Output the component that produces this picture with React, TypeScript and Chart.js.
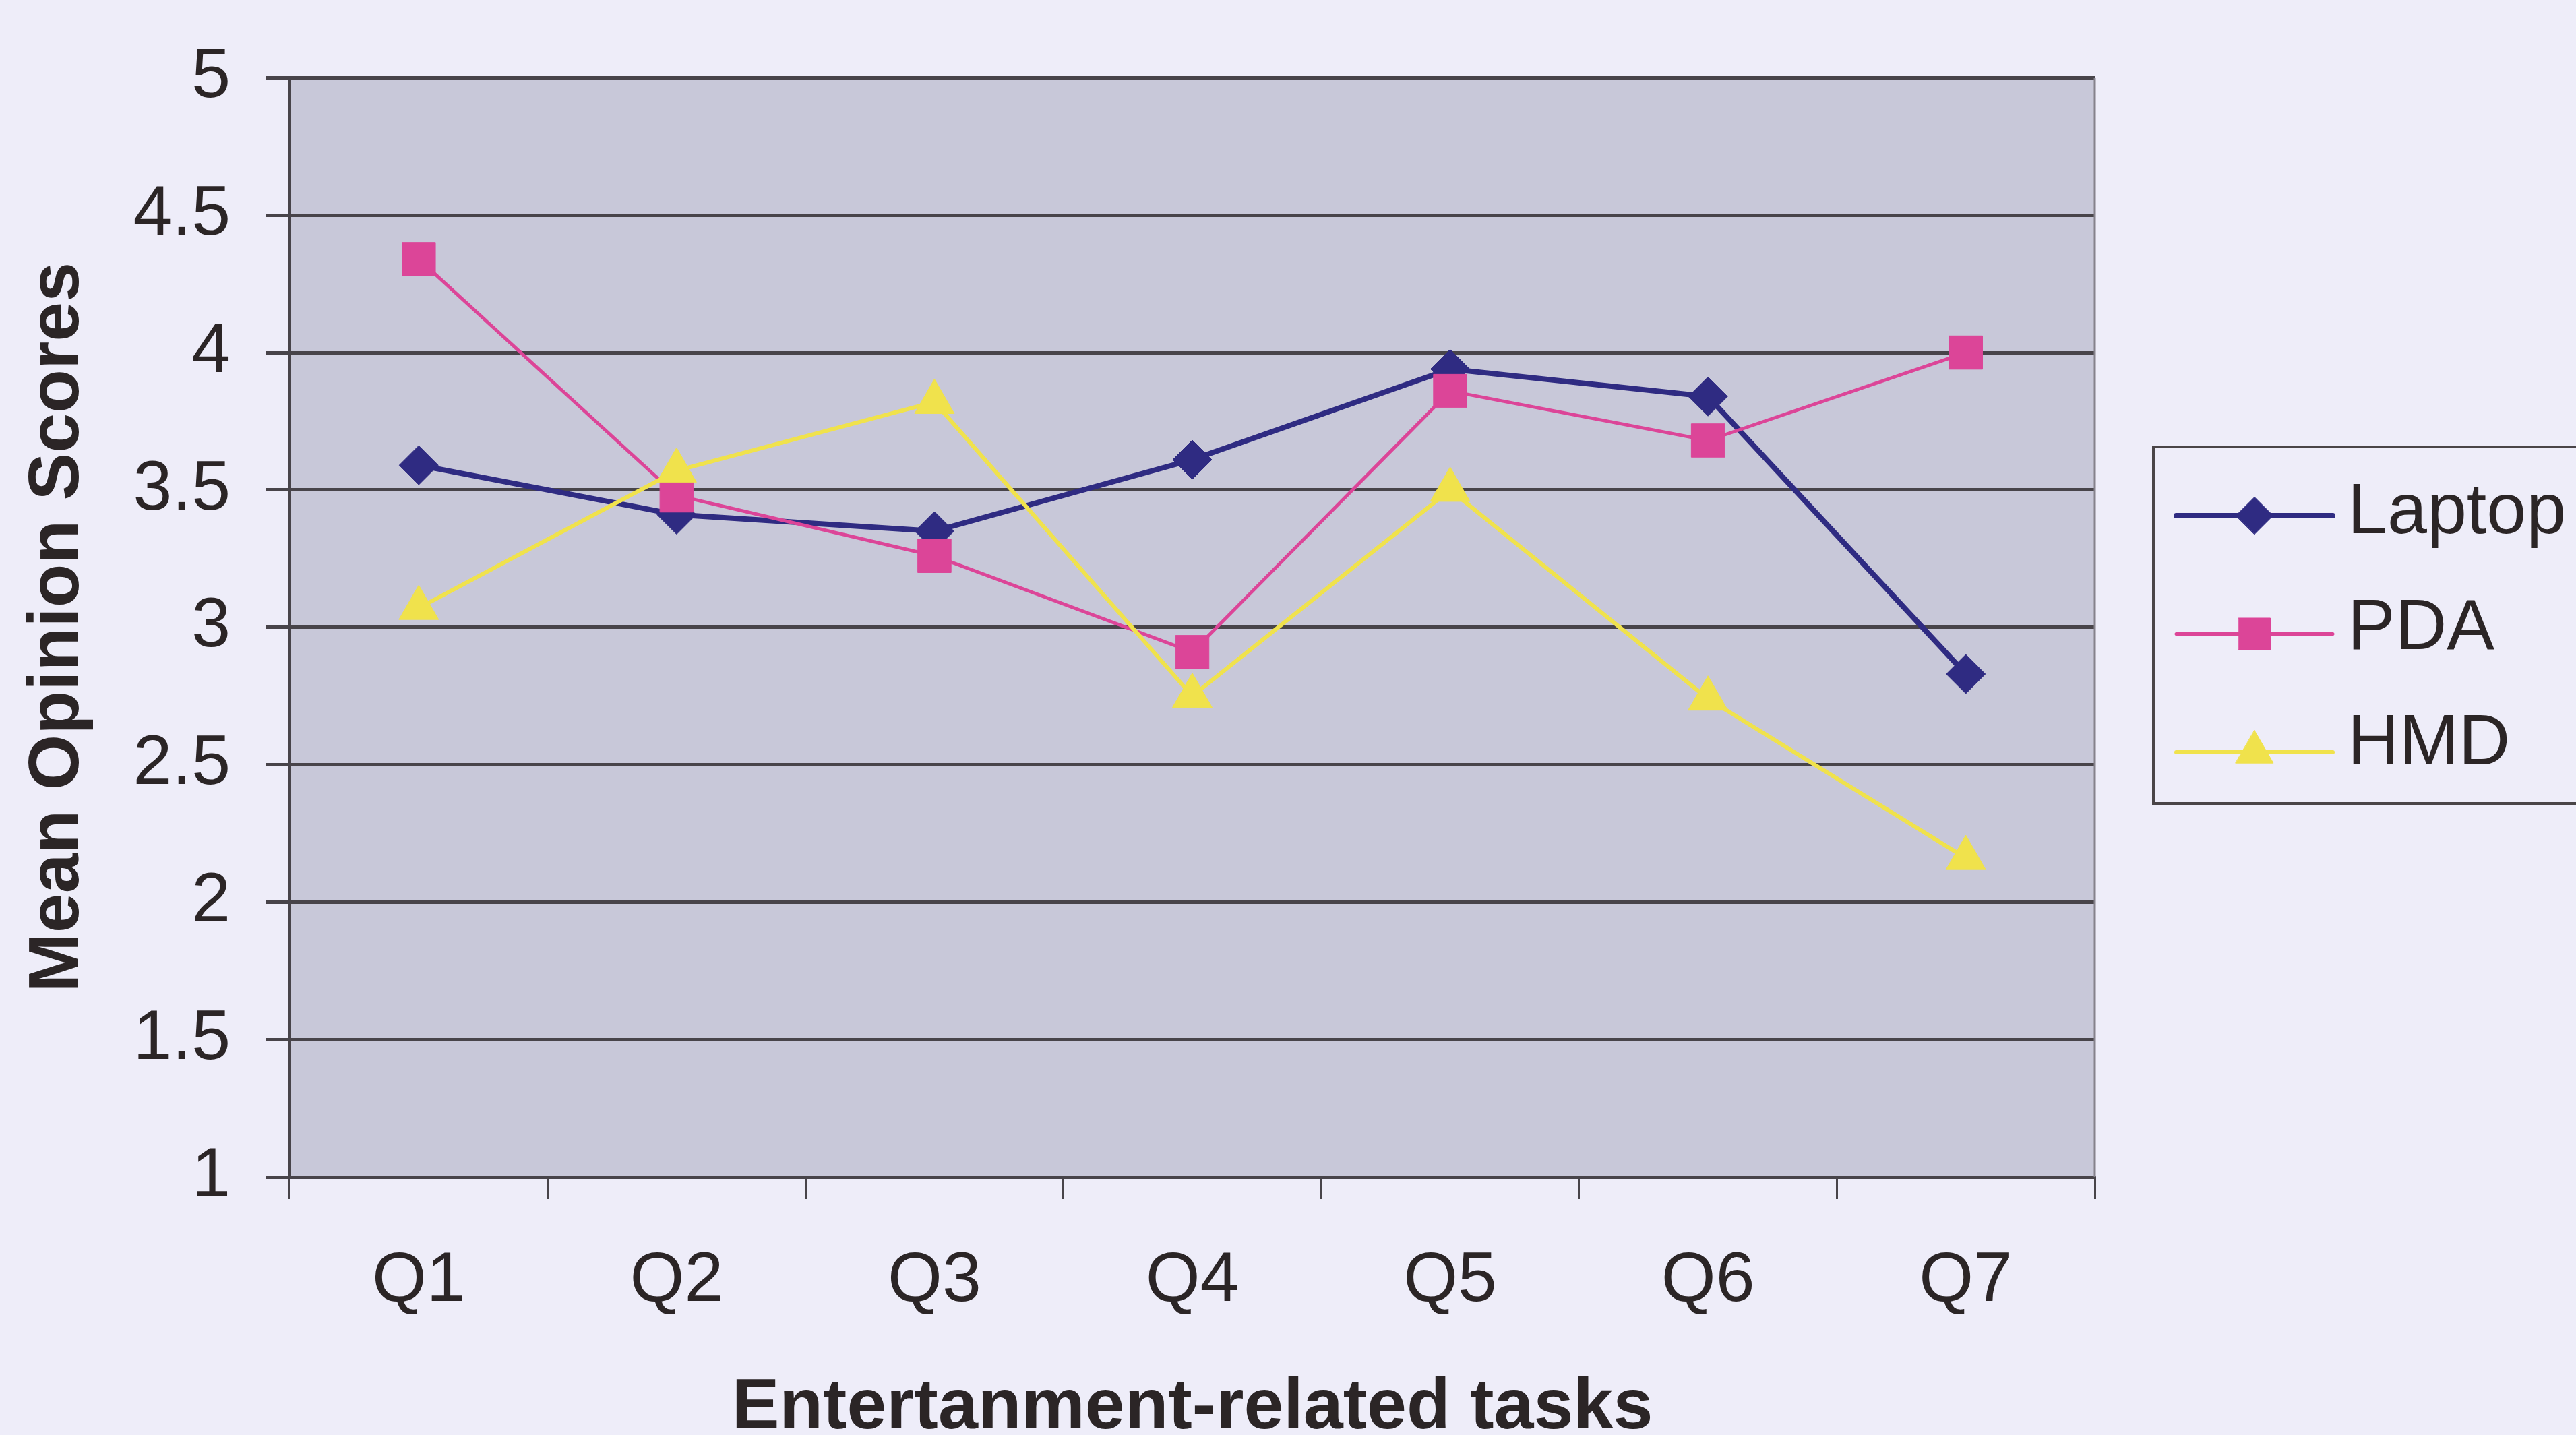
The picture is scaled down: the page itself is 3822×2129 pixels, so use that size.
import React, { useEffect, useRef } from "react";
import { Chart, registerables } from "chart.js";
import { drawPoint } from "chart.js/helpers";

Chart.register(...registerables);

// ---- data ----
const categories = ["Q1", "Q2", "Q3", "Q4", "Q5", "Q6", "Q7"];
const laptopScores = [3.59, 3.41, 3.35, 3.61, 3.94, 3.84, 2.83];
const pdaScores = [4.34, 3.48, 3.26, 2.91, 3.86, 3.68, 4.0];
const hmdScores = [3.07, 3.57, 3.82, 2.75, 3.5, 2.74, 2.16];
const seriesNames = ["Laptop", "PDA", "HMD"];
const yMin = 1;
const yMax = 5;
const yStep = 0.5;
const yAxisTitle = "Mean Opinion Scores";
const xAxisTitle = "Entertanment-related tasks";

// ---- styling ----
const FONT = "'Liberation Sans', Arial, Helvetica, sans-serif";
const PAGE_BG = "#eeedf9";
const PLOT_BG = "#c8c8d9";
const GRID = "#48444a";
const TEXT = "#2b2526";
const W = 3822;
const H = 2129;

const seriesStyles = [
  { color: "#2f2b82", style: "rectRot", radius: 29, width: 8 },
  { color: "#dc4598", style: "rect", radius: 35, width: 5 },
  { color: "#f0e24c", style: "triangle", radius: 34, width: 6 },
];

const plotAreaPlugin = {
  id: "plotArea",
  beforeDraw(chart: any) {
    const { ctx, chartArea: a } = chart;
    ctx.save();
    ctx.fillStyle = PLOT_BG;
    ctx.fillRect(a.left, a.top, a.right - a.left, a.bottom - a.top);
    ctx.restore();
  },
  beforeDatasetsDraw(chart: any) {
    const { ctx, chartArea: a } = chart;
    ctx.save();
    ctx.strokeStyle = "#85828c";
    ctx.lineWidth = 3;
    ctx.beginPath();
    ctx.moveTo(a.right, a.top);
    ctx.lineTo(a.right, a.bottom);
    ctx.stroke();
    ctx.restore();
  },
};

// Excel-style boxed legend: line sample with the series marker, then the name
const boxedLegendPlugin = {
  id: "boxedLegend",
  afterDraw(chart: any) {
    const { ctx } = chart;
    const boxLeft = 3195;
    const boxTop = 663;
    const boxBottom = 1192;
    ctx.save();
    ctx.strokeStyle = "#4a4548";
    ctx.lineWidth = 4;
    ctx.strokeRect(boxLeft, boxTop, W - boxLeft + 20, boxBottom - boxTop);

    chart.data.datasets.forEach((ds: any, i: number) => {
      const rowY = 765 + i * 175.5;
      ctx.strokeStyle = ds.borderColor;
      ctx.lineWidth = ds.borderWidth;
      ctx.lineCap = "round";
      ctx.beginPath();
      ctx.moveTo(3229, rowY);
      ctx.lineTo(3461, rowY);
      ctx.stroke();

      ctx.fillStyle = ds.pointBackgroundColor;
      ctx.strokeStyle = ds.pointBorderColor;
      ctx.lineWidth = ds.pointBorderWidth;
      drawPoint(
        ctx,
        { pointStyle: ds.pointStyle, radius: ds.pointRadius * 0.95, rotation: 0, borderWidth: ds.pointBorderWidth },
        3345,
        rowY
      );

      ctx.fillStyle = TEXT;
      ctx.font = `106px ${FONT}`;
      ctx.textAlign = "left";
      ctx.textBaseline = "alphabetic";
      ctx.fillText(ds.label, 3483, 791 + i * 171.5);
    });
    ctx.restore();
  },
};

export default function App() {
  const canvasRef = useRef<HTMLCanvasElement | null>(null);

  useEffect(() => {
    const canvas = canvasRef.current;
    if (!canvas) return;
    const series = [laptopScores, pdaScores, hmdScores];
    const chart = new Chart(canvas, {
      type: "line",
      data: {
        labels: categories,
        datasets: series.map((values, i) => {
          const s = seriesStyles[i];
          return {
            label: seriesNames[i],
            data: values,
            borderColor: s.color,
            backgroundColor: s.color,
            borderWidth: s.width,
            pointStyle: s.style,
            pointRadius: s.radius,
            pointHoverRadius: s.radius,
            pointBackgroundColor: s.color,
            pointBorderColor: s.color,
            pointBorderWidth: 1,
            tension: 0,
            fill: false,
            order: 3 - i,
          };
        }),
      },
      options: {
        responsive: false,
        animation: false,
        devicePixelRatio: 1,
        layout: {
          autoPadding: false,
          padding: { top: 103, right: 714, bottom: 0, left: 0 },
        },
        plugins: {
          legend: { display: false },
          tooltip: { enabled: false },
        },
        scales: {
          x: {
            type: "category",
            offset: true,
            grid: {
              offset: true,
              drawOnChartArea: false,
              drawTicks: true,
              tickLength: 33,
              color: GRID,
              lineWidth: 3,
            },
            border: { display: true, color: GRID, width: 5 },
            ticks: {
              color: TEXT,
              font: { family: FONT, size: 104 },
              padding: 60,
              maxRotation: 0,
              autoSkip: false,
            },
            title: {
              display: true,
              text: xAxisTitle,
              color: TEXT,
              font: { family: FONT, size: 106, weight: "bold", lineHeight: 1 },
              padding: { top: 0, bottom: -14 },
            },
            afterFit(scale: any) {
              scale.height = 383;
            },
          },
          y: {
            min: yMin,
            max: yMax,
            ticks: {
              stepSize: yStep,
              color: TEXT,
              font: { family: FONT, size: 104 },
              padding: 53,
              callback: (value: any) => String(Number(value)),
            },
            grid: {
              color: GRID,
              lineWidth: 5,
              tickLength: 35,
            },
            border: { display: true, color: GRID, width: 4 },
            title: {
              display: true,
              text: yAxisTitle,
              color: TEXT,
              font: { family: FONT, size: 106, weight: "bold", lineHeight: 1 },
              padding: { top: 34, bottom: 0 },
            },
            afterFit(scale: any) {
              scale.width = 430;
            },
          },
        },
      } as any,
      plugins: [plotAreaPlugin, boxedLegendPlugin],
    });
    return () => chart.destroy();
  }, []);

  return (
    <div
      style={{
        position: "fixed",
        left: 0,
        top: 0,
        width: W,
        height: H,
        background: PAGE_BG,
        overflow: "hidden",
      }}
    >
      <canvas ref={canvasRef} width={W} height={H} style={{ display: "block" }} />
    </div>
  );
}
